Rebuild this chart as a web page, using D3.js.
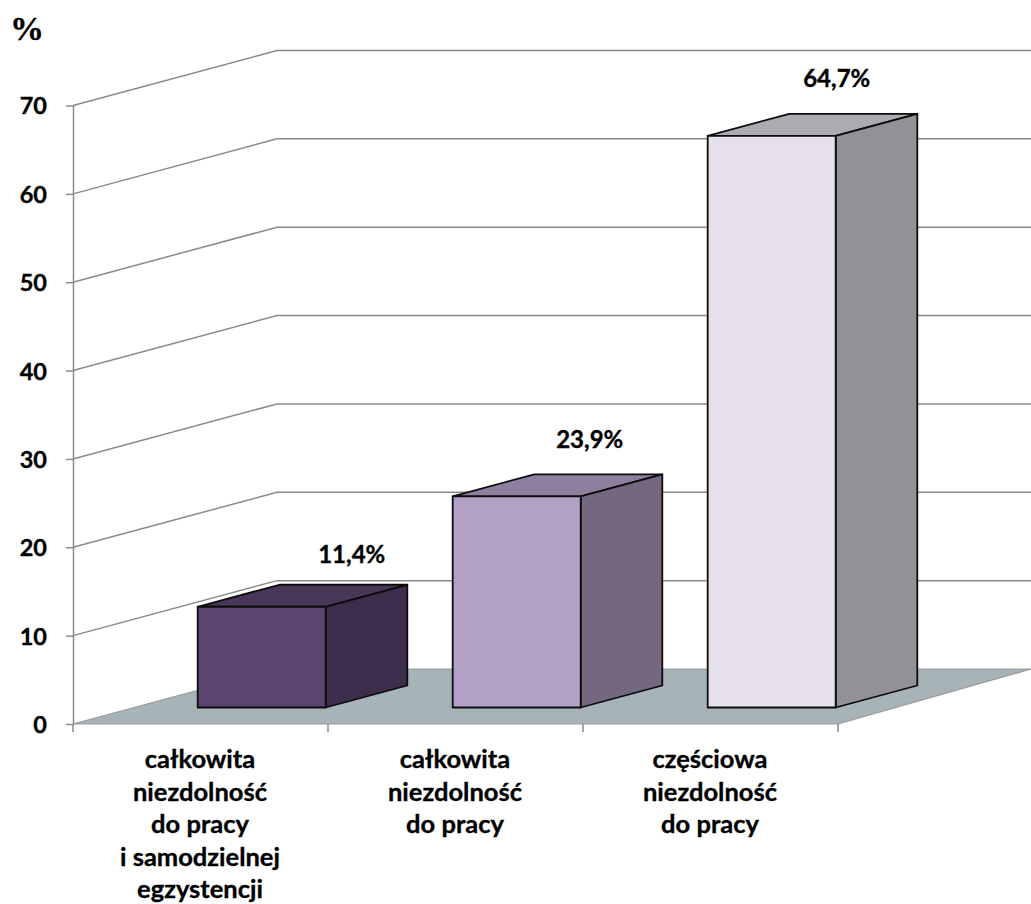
<!DOCTYPE html>
<html>
<head>
<meta charset="utf-8">
<style>
html, body { margin: 0; padding: 0; background: #fff; }
svg { display: block; }
text { font-family: Lato, sans-serif; font-weight: 700; fill: #000; stroke: #000; stroke-width: 0.35; }
.grid { fill: none; stroke: #8a8a8a; stroke-width: 1.5; }
.axis path, .axis line { stroke: #8a8a8a; stroke-width: 1.5; }
.edge { stroke: #0c0c0c; stroke-width: 1.8; stroke-linejoin: round; }
</style>
</head>
<body>
<svg width="1031" height="904"></svg>
<script src="https://d3js.org/d3.v7.min.js"></script>
<script>

var categories = ["a", "b", "c"];
var categoryLines = [
  ["całkowita", "niezdolność", "do pracy", "i samodzielnej", "egzystencji"],
  ["całkowita", "niezdolność", "do pracy"],
  ["częściowa", "niezdolność", "do pracy"]
];
var values = [11.4, 23.9, 64.7];
var valueLabels = ["11,4%", "23,9%", "64,7%"];
var yTicks = [0, 10, 20, 30, 40, 50, 60, 70];
var frontColors = ["#5b4570", "#b3a0c6", "#e6e0ec"];
var topColors = ["#483758", "#8f7f9e", "#adaab1"];
var sideColors = ["#3d2e4c", "#736880", "#939096"];
// labels were placed by hand in the original
var labelShiftX = [26, 9, 1];
var labelShiftY = [-44, -48, -49];

var svg = d3.select("svg");

var y = d3.scaleLinear().domain([0, 70]).range([724, 105.5]);
var x = d3.scaleBand().domain(categories).range([73, 838]).paddingInner(0).paddingOuter(0);

// oblique projection of the 3d box
var depthX = 204, depthY = -55;
var barFront = 0.3, barDepth = 0.4;
var barWidth = 128;
var floorRight = 1031;

function line(pts) { return d3.line()(pts); }

// floor
svg.append("path")
    .attr("d", line([[73, y(0)], [73 + depthX, y(0) + depthY], [floorRight, y(0) + depthY], [838, y(0)]]) + "Z")
    .attr("fill", "#a6b4b7")
    .attr("stroke", "#999")
    .attr("stroke-width", 1.2);

// gridlines on the side and back wall
svg.selectAll(".grid")
    .data(yTicks.slice(1))
    .enter().append("path")
    .attr("class", "grid")
    .attr("d", function(d) {
      return line([[73, y(d)], [73 + depthX, y(d) + depthY], [floorRight, y(d) + depthY]]);
    });

// axes
var yAxis = d3.axisLeft(y).tickValues(yTicks).tickSize(7).tickPadding(19).tickSizeOuter(0);
var yG = svg.append("g")
    .attr("class", "axis")
    .attr("transform", "translate(73,0)")
    .call(yAxis);
yG.selectAll("text")
    .style("font-family", "Lato, sans-serif")
    .style("font-size", "23.5px")
    .attr("dy", "0.36em");

var xEdges = [x.range()[0]].concat(categories.map(function(c) { return x(c) + x.bandwidth(); }));
svg.append("g")
    .attr("class", "axis")
    .selectAll("line")
    .data(xEdges)
    .enter().append("line")
    .attr("x1", function(d) { return d; })
    .attr("x2", function(d) { return d; })
    .attr("y1", y(0))
    .attr("y2", y(0) + 8);

// bars
var bars = svg.selectAll(".bar")
    .data(values)
    .enter().append("g")
    .attr("class", "bar");

function corners(d, i) {
  var x0 = x(categories[i]) + (x.bandwidth() - barWidth) / 2 + depthX * barFront;
  var x1 = x0 + barWidth;
  var yb = y(0) + depthY * barFront;
  var yt = yb - (y(0) - y(d));
  var dx = depthX * barDepth, dy = depthY * barDepth;
  return { x0: x0, x1: x1, yb: yb, yt: yt, dx: dx, dy: dy };
}

bars.append("path")
    .attr("class", "edge")
    .attr("fill", function(d, i) { return topColors[i]; })
    .attr("d", function(d, i) {
      var c = corners(d, i);
      return line([[c.x0, c.yt], [c.x0 + c.dx, c.yt + c.dy], [c.x1 + c.dx, c.yt + c.dy], [c.x1, c.yt]]) + "Z";
    });

bars.append("path")
    .attr("class", "edge")
    .attr("fill", function(d, i) { return sideColors[i]; })
    .attr("d", function(d, i) {
      var c = corners(d, i);
      return line([[c.x1, c.yt], [c.x1 + c.dx, c.yt + c.dy], [c.x1 + c.dx, c.yb + c.dy], [c.x1, c.yb]]) + "Z";
    });

bars.append("path")
    .attr("class", "edge")
    .attr("fill", function(d, i) { return frontColors[i]; })
    .attr("d", function(d, i) {
      var c = corners(d, i);
      return line([[c.x0, c.yt], [c.x1, c.yt], [c.x1, c.yb], [c.x0, c.yb]]) + "Z";
    });

// value labels
svg.selectAll(".value")
    .data(values)
    .enter().append("text")
    .attr("class", "value")
    .attr("text-anchor", "middle")
    .attr("font-size", 24)
    .attr("x", function(d, i) { return corners(d, i).x1 + labelShiftX[i]; })
    .attr("y", function(d, i) { return corners(d, i).yt + labelShiftY[i]; })
    .text(function(d, i) { return valueLabels[i]; });

// category labels
var cat = svg.selectAll(".cat")
    .data(categories)
    .enter().append("text")
    .attr("class", "cat")
    .attr("text-anchor", "middle")
    .attr("font-size", 25.5);

cat.selectAll("tspan")
    .data(function(d, i) { return categoryLines[i]; })
    .enter().append("tspan")
    .attr("x", function() { return x(d3.select(this.parentNode).datum()) + x.bandwidth() / 2 - 0.5; })
    .attr("y", function(d, j) { return 768 + j * 32.5; })
    .text(function(d) { return d; });

// unit label
svg.append("text")
    .attr("x", 10)
    .attr("y", 40)
    .style("font-family", "'Liberation Serif', serif")
    .attr("font-size", 34)
    .text("%");

</script>
</body>
</html>
